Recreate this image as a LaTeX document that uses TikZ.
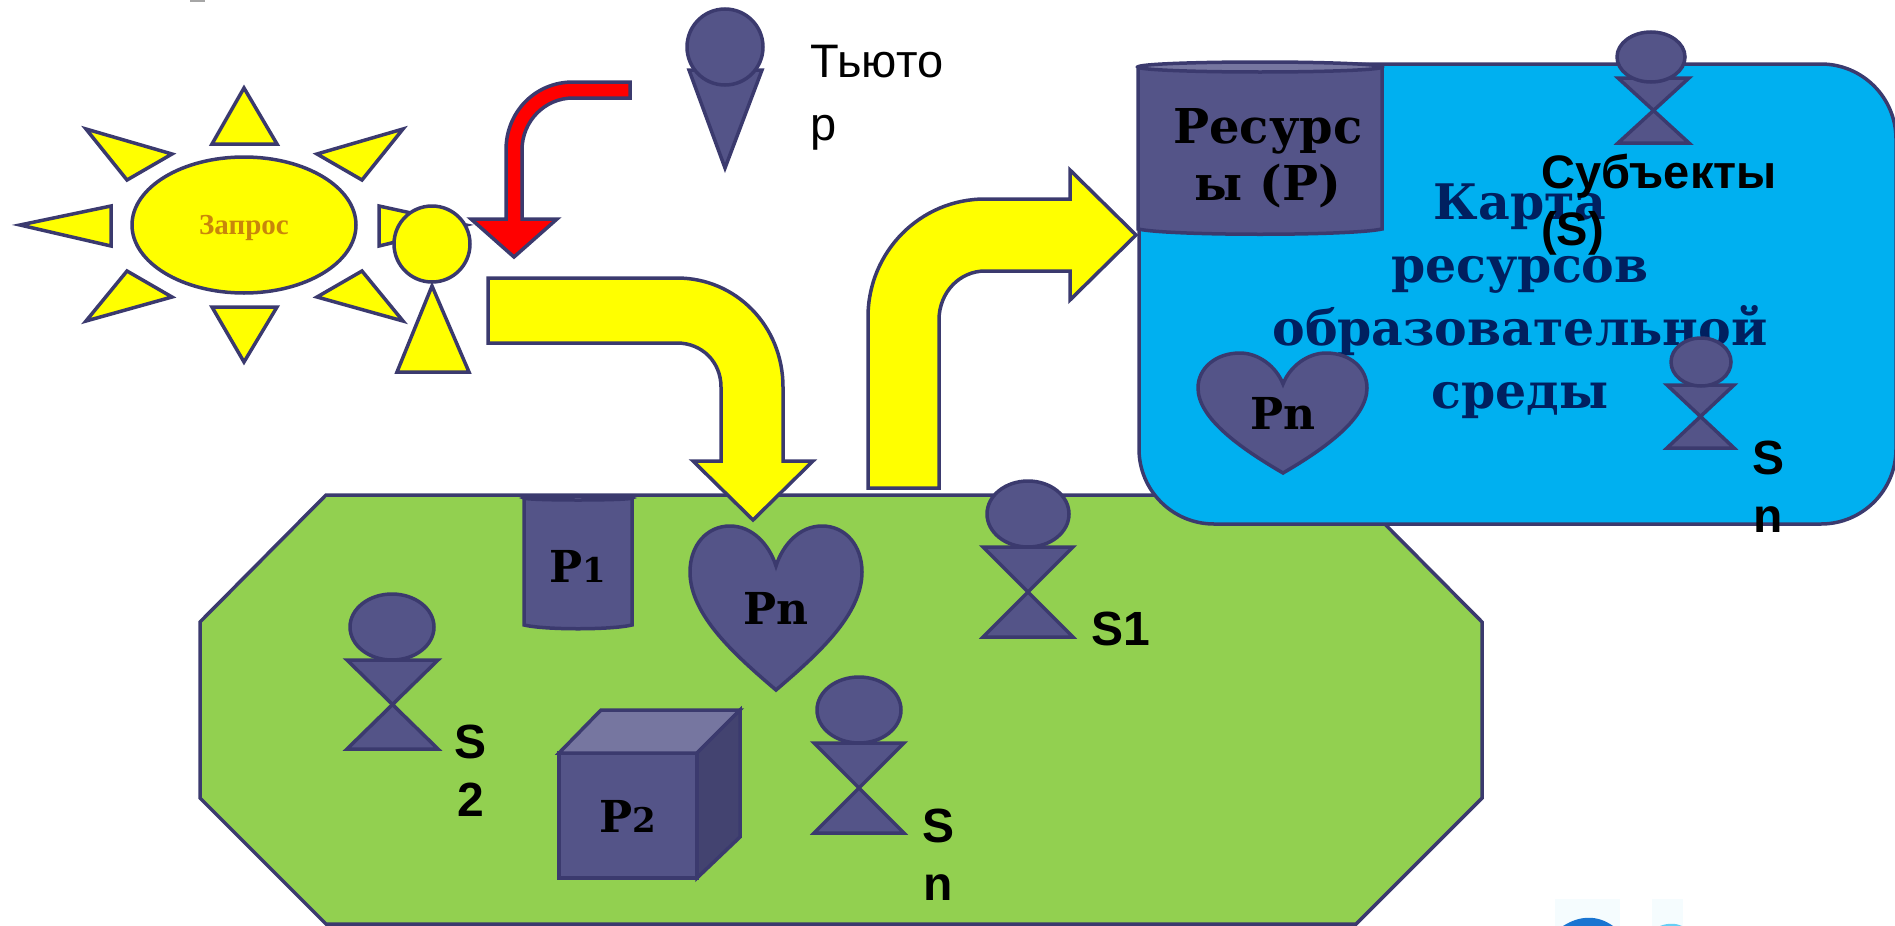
\documentclass[tikz,border=0pt]{standalone}
\usepackage{fontspec}
\setmainfont{Liberation Sans}
\newfontfamily\slabfont{DejaVu Serif}
\newfontfamily\timesfont{Liberation Serif}
\pgfdeclarelayer{bg}
\pgfdeclarelayer{fg}
\pgfsetlayers{bg,main,fg}
\definecolor{inkline}{HTML}{3B3A6E}
\definecolor{inkfill}{HTML}{545488}
\definecolor{inklid}{HTML}{7676A0}
\definecolor{inkside}{HTML}{434370}
\definecolor{fieldgreen}{HTML}{92D050}
\definecolor{mapblue}{HTML}{00B0F0}
\definecolor{mapnavy}{HTML}{002060}
\definecolor{sunyellow}{HTML}{FFFF00}
\definecolor{queryorange}{HTML}{C8860B}
\tikzset{
    sunshape/.style={draw=inkline, fill=sunyellow, line width=3.5pt, line join=miter},
    inkshape/.style={draw=inkline, fill=inkfill, line width=3.5pt},
    slabtext/.style={inner sep=0pt, align=center, font=\slabfont\bfseries\fontsize{44}{59}\selectfont},
    subjtext/.style={inner sep=0pt, align=center, font=\bfseries\fontsize{48}{58}\selectfont},
}
\newcommand{\lownum}[1]{{\fontsize{34}{34}\selectfont #1}}
\begin{document}
\begin{tikzpicture}[x=1pt, y=-1pt]
    \useasboundingbox (0,0) rectangle (1895,926);
    \begin{pgfonlayer}{bg}
        \fill[gray!70] (190,0) rectangle (205,1.5);
        \fill[cyan!4] (1555,899) rectangle (1620,926);
        \fill[cyan!4] (1652,899) rectangle (1683,926);
        \fill[blue!50!cyan!80!black!90] (1563,926) .. controls (1580,915) and (1598,915) .. (1613,926) -- cycle;
        \fill[cyan!60] (1660,926) .. controls (1667,923) and (1676,923) .. (1682,926) -- cycle;
        \draw[draw=inkline, fill=fieldgreen, line width=3.5pt] (326,495) -- (1356,495) -- (1482,622) -- (1482,798) -- (1356,924) -- (326,924) -- (200,798) -- (200,622) -- cycle;
        \draw[draw=inkline, fill=mapblue, line width=3.5pt, rounded corners=75pt] (1139,64) rectangle (1896,524);
        \node[slabtext, text=mapnavy, font=\slabfont\bfseries\fontsize{49}{63}\selectfont] (maptitle) at (1520,301) {Карта\\ресурсов\\образовательной\\среды};
    \end{pgfonlayer}
    \begin{pgfonlayer}{main}
        % sun
        \draw[sunshape] (244,225) ellipse [x radius=112, y radius=68];
        \draw[sunshape] (244,88) -- (277,144) -- (212,144) -- cycle;
        \draw[sunshape] (244,362) -- (277,307) -- (212,307) -- cycle;
        \draw[sunshape] (20,225) -- (111,206) -- (111,246) -- cycle;
        \draw[sunshape] (466,225) -- (379,206) -- (379,246) -- cycle;
        \draw[sunshape] (86,129) -- (172,154) -- (127,180) -- cycle;
        \draw[sunshape] (403,129) -- (317,154) -- (362,180) -- cycle;
        \draw[sunshape] (86,321) -- (172,297) -- (127,271) -- cycle;
        \draw[sunshape] (403,321) -- (317,297) -- (362,271) -- cycle;
        \node[inner sep=0pt, text=queryorange, font=\timesfont\bfseries\fontsize{29}{30}\selectfont] (query) at (244,228) {Запрос};

        % arrows
        \draw[sunshape] (488,278) -- (677,278) .. controls (736,278) and (783,326) .. (783,387) -- (783,461) -- (813,461) -- (753,520) -- (693,461) -- (721,461) -- (721,387) .. controls (721,362) and (702,343) .. (677,343) -- (488,343) -- cycle;
        \draw[sunshape] (868,488) -- (868,317) .. controls (868,252) and (920,199) .. (985,199) -- (1070,199) -- (1070,170) -- (1136,235) -- (1070,300) -- (1070,271) -- (985,271) .. controls (960,271) and (939,292) .. (939,320) -- (939,488) -- cycle;
        \draw[sunshape, fill=red] (630,82) -- (573,82) .. controls (535,82) and (506,112) .. (506,150) -- (506,219) -- (471,219) -- (514,257) -- (557,219) -- (522,219) -- (522,150) .. controls (522,121) and (545,98) .. (573,98) -- (630,98) -- cycle;

        % asker
        \draw[sunshape] (432,286) -- (469,372) -- (397,372) -- cycle;
        \draw[sunshape] (432,244) circle [radius=38];

        % tutor
        \draw[inkshape] (689,70) -- (762,70) -- (725,168) -- cycle;
        \draw[inkshape] (725,47) circle [radius=38];
        \node[inner sep=0pt, align=left, font=\fontsize{47}{63}\selectfont] (tutor) at (877,98) {Тьюто\\р};

        % resources on the map
        \draw[inkshape] (1138,67) -- (1138,229) .. controls (1170,236) and (1350,236) .. (1382,229) -- (1382,67) -- cycle;
        \draw[inkshape, fill=inklid] (1260,67) ellipse [x radius=122, y radius=5];
        \node[slabtext, text=black, font=\slabfont\bfseries\fontsize{48}{57}\selectfont] (resmap) at (1268,158) {Ресурс\\ы (Р)};
        \draw[inkshape] (1283,473) .. controls (1240,448) and (1198,418) .. (1198,388) .. controls (1198,368) and (1216,353) .. (1240,353) .. controls (1258,353) and (1276,366) .. (1283,384) .. controls (1290,366) and (1308,353) .. (1326,353) .. controls (1350,353) and (1367,368) .. (1367,388) .. controls (1367,418) and (1326,448) .. (1283,473) -- cycle;
        \node[slabtext, text=black] (pnmap) at (1283,413) {Pn};

        % subjects on the map
        \draw[inkshape] (1618,78) -- (1689,78) -- (1618,143) -- (1689,143) -- cycle;
        \draw[inkshape] (1651,57) ellipse [x radius=34, y radius=25];
        \draw[inkshape] (1667,385) -- (1734,385) -- (1667,448) -- (1734,448) -- cycle;
        \draw[inkshape] (1701,362) ellipse [x radius=30, y radius=24];

        % resources on the field
        \draw[inkshape] (524,498) -- (524,625) .. controls (545,630) and (611,630) .. (632,625) -- (632,498) -- cycle;
        \draw[inkshape, fill=inklid] (578,498) ellipse [x radius=54, y radius=2];
        \node[slabtext, text=black] (pone) at (578,566) {P\lownum{1}};
        \draw[inkshape] (776,690) .. controls (735,655) and (690,615) .. (690,572) .. controls (690,545) and (707,526) .. (730,526) .. controls (752,526) and (769,544) .. (776,566) .. controls (783,544) and (800,526) .. (822,526) .. controls (845,526) and (862,545) .. (862,572) .. controls (862,615) and (817,655) .. (776,690) -- cycle;
        \node[slabtext, text=black] (pnfield) at (776,608) {Pn};
        \draw[inkshape] (559,753) rectangle (697,878);
        \draw[inkshape, fill=inklid] (559,753) -- (601,710) -- (740,710) -- (697,753) -- cycle;
        \draw[inkshape, fill=inkside] (697,753) -- (740,710) -- (740,837) -- (697,878) -- cycle;
        \node[slabtext, text=black] (ptwo) at (628,816) {P\lownum{2}};

        % subjects on the field
        \draw[inkshape] (983,547) -- (1073,547) -- (983,637) -- (1073,637) -- cycle;
        \draw[inkshape] (1028,514) ellipse [x radius=41, y radius=33];
        \draw[inkshape] (347,660) -- (438,660) -- (347,749) -- (438,749) -- cycle;
        \draw[inkshape] (392,627) ellipse [x radius=42, y radius=33];
        \draw[inkshape] (814,743) -- (904,743) -- (814,833) -- (904,833) -- cycle;
        \draw[inkshape] (859,710) ellipse [x radius=42, y radius=33];
    \end{pgfonlayer}
    \begin{pgfonlayer}{fg}
        \node[subjtext, align=left, font=\bfseries\fontsize{47}{57}\selectfont] (subjmap) at (1659,205) {Субъекты\\(S)};
        \node[subjtext] (snmap) at (1768,487) {S\\n};
        \node[subjtext] (sone) at (1121,629) {S1};
        \node[subjtext] (stwo) at (471,771) {S\\2};
        \node[subjtext] (sn) at (938,855) {S\\n};
    \end{pgfonlayer}
\end{tikzpicture}
\end{document}
